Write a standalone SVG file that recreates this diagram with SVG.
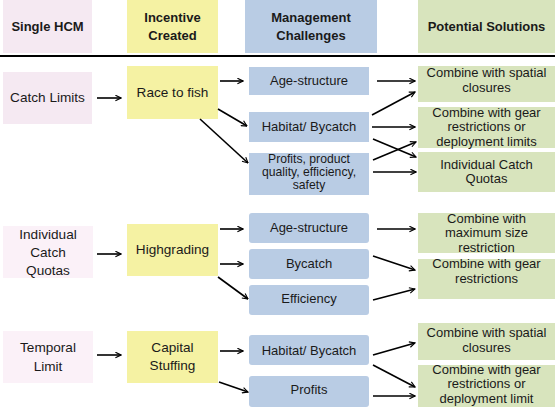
<svg xmlns="http://www.w3.org/2000/svg" width="559" height="411" viewBox="0 0 559 411">
<style>
text{font-family:"Liberation Sans",Arial,sans-serif;font-size:13px;fill:#1a1a1a;text-anchor:middle}
.h{font-weight:bold;font-size:13px}
.l{font-size:13.6px}
.s{font-size:12.2px}
.p{fill:#f5e9f2}.pl{fill:#fbf1f8}
.y{fill:#f5f2a3}
.b{fill:#b9cce4}
.g{fill:#d8e4bd}
.c line{stroke:#000;stroke-width:1.6;marker-end:url(#ah)}
</style>
<defs>
<marker id="ah" viewBox="0 0 10 10" refX="9" refY="5" markerWidth="7" markerHeight="7" markerUnits="userSpaceOnUse" orient="auto">
<path d="M1,1 L9,5 L1,9" fill="none" stroke="#000" stroke-width="1.6"/>
</marker>
</defs>
<rect width="559" height="411" fill="#fff"/>
<g id="headers">
<g id="h-hcm"><rect class="p" x="3" y="0" width="89" height="53"/><text class="h" x="47.5" y="31">Single HCM</text></g>
<g id="h-inc"><rect class="y" x="127" y="0" width="91" height="53"/><text class="h" x="172.5" y="22">Incentive</text><text class="h" x="172.5" y="40">Created</text></g>
<g id="h-mgmt"><rect class="b" x="245" y="0" width="132" height="53"/><text class="h" x="311" y="22">Management</text><text class="h" x="311" y="40">Challenges</text></g>
<g id="h-sol"><rect class="g" x="418" y="0" width="137" height="53"/><text class="h" x="486.5" y="31">Potential Solutions</text></g>
<line x1="0" y1="56" x2="555" y2="56" stroke="#000" stroke-width="2"/>
</g>
<g id="n-catch"><rect class="p" x="3" y="72" width="89" height="52"/><text class="l" x="47.5" y="102">Catch Limits</text></g>
<g id="n-race"><rect class="y" x="127" y="66" width="91" height="53"/><text class="l" x="172.5" y="97">Race to fish</text></g>
<g id="n-age1"><rect class="b" x="249" y="67" width="120" height="28"/><text x="309" y="85">Age-structure</text></g>
<g id="n-hab1"><rect class="b" x="249" y="112" width="120" height="30"/><text x="309" y="131">Habitat/ Bycatch</text></g>
<g id="n-prof1"><rect class="b" x="249" y="153" width="120" height="42"/><text class="s" x="309" y="163">Profits, product</text><text class="s" x="309" y="176">quality, efficiency,</text><text class="s" x="309" y="189">safety</text></g>
<g id="s-spat1"><rect class="g" x="418" y="66" width="137" height="36"/><text x="486.5" y="77">Combine with spatial</text><text x="486.5" y="92">closures</text></g>
<g id="s-gear1"><rect class="g" x="418" y="107" width="137" height="41"/><text x="486.5" y="116.5">Combine with gear</text><text x="486.5" y="131">restrictions or</text><text x="486.5" y="145.5">deployment limits</text></g>
<g id="s-icq1"><rect class="g" x="418" y="152" width="137" height="40"/><text x="486.5" y="169">Individual Catch</text><text x="486.5" y="183">Quotas</text></g>

<g id="n-icq"><rect class="pl" x="3" y="226" width="90" height="52"/><text class="l" x="48" y="239">Individual</text><text class="l" x="48" y="257">Catch</text><text class="l" x="48" y="275">Quotas</text></g>
<g id="n-high"><rect class="y" x="127" y="224" width="91" height="52"/><text class="l" x="172.5" y="254">Highgrading</text></g>
<g id="n-age2"><rect class="b" x="249" y="213" width="120" height="30" rx="3"/><text x="309" y="232">Age-structure</text></g>
<g id="n-by2"><rect class="b" x="249" y="249" width="120" height="30" rx="3"/><text x="309" y="268">Bycatch</text></g>
<g id="n-eff2"><rect class="b" x="249" y="285" width="120" height="30" rx="3"/><text x="309" y="303">Efficiency</text></g>
<g id="s-max2"><rect class="g" x="418" y="213" width="137" height="40"/><text x="486.5" y="223">Combine with</text><text x="486.5" y="237">maximum size</text><text x="486.5" y="252">restriction</text></g>
<g id="s-gear2"><rect class="g" x="418" y="259" width="137" height="40"/><text x="486.5" y="268">Combine with gear</text><text x="486.5" y="283">restrictions</text></g>

<g id="n-temp"><rect class="pl" x="3" y="331" width="90" height="52"/><text class="l" x="48" y="352">Temporal</text><text class="l" x="48" y="371">Limit</text></g>
<g id="n-cap"><rect class="y" x="127" y="331" width="91" height="52"/><text class="l" x="172.5" y="352">Capital</text><text class="l" x="172.5" y="370">Stuffing</text></g>
<g id="n-hab3"><rect class="b" x="249" y="335" width="120" height="30" rx="3"/><text x="309" y="355">Habitat/ Bycatch</text></g>
<g id="n-prof3"><rect class="b" x="249" y="376" width="120" height="31" rx="3"/><text x="309" y="394">Profits</text></g>
<g id="s-spat3"><rect class="g" x="418" y="323" width="137" height="37"/><text x="486.5" y="337">Combine with spatial</text><text x="486.5" y="352">closures</text></g>
<g id="s-gear3"><rect class="g" x="418" y="365" width="137" height="42"/><text x="486.5" y="374">Combine with gear</text><text x="486.5" y="388">restrictions or</text><text x="486.5" y="403">deployment limit</text></g>

<g id="connectors" class="c">
<line x1="97" y1="98" x2="121" y2="98"/>
<line x1="220" y1="81" x2="243" y2="81"/>
<line x1="218" y1="109" x2="247" y2="126"/>
<line x1="200" y1="119" x2="248" y2="163"/>
<line x1="377" y1="81" x2="415" y2="81"/>
<line x1="372" y1="115" x2="415" y2="92"/>
<line x1="372" y1="127" x2="415" y2="127"/>
<line x1="373" y1="139" x2="416" y2="157"/>
<line x1="373" y1="160" x2="416" y2="142"/>
<line x1="373" y1="172" x2="416" y2="172"/>

<line x1="97" y1="254" x2="121" y2="254"/>
<line x1="220" y1="229" x2="243" y2="229"/>
<line x1="220" y1="264" x2="243" y2="264"/>
<line x1="218" y1="277" x2="248" y2="299"/>
<line x1="377" y1="229" x2="415" y2="229"/>
<line x1="373" y1="256" x2="415" y2="270"/>
<line x1="373" y1="300" x2="415" y2="289"/>

<line x1="97" y1="355" x2="121" y2="355"/>
<line x1="220" y1="351" x2="243" y2="351"/>
<line x1="219" y1="382" x2="248" y2="392"/>
<line x1="373" y1="355" x2="415" y2="343"/>
<line x1="373" y1="365" x2="415" y2="387"/>
<line x1="373" y1="396" x2="415" y2="396"/>
</g>
</svg>
